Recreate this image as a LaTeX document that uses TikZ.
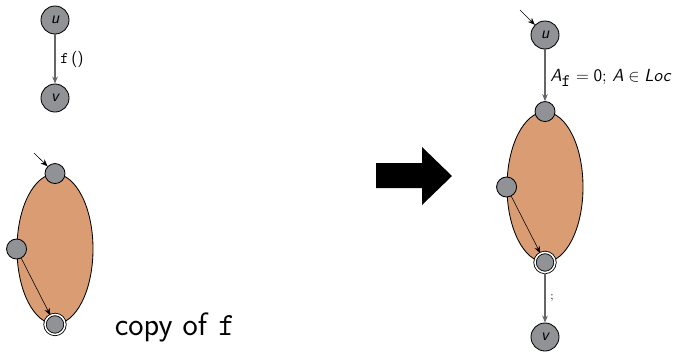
\documentclass[tikz,border=0pt]{standalone}
\usetikzlibrary{automata, positioning, arrows.meta, shapes.geometric}
\definecolor{blobfill}{RGB}{217,156,115}
\definecolor{stategray}{RGB}{145,146,150}

\begin{document}
\begin{tikzpicture}[
  x=0.025cm, y=-0.025cm,
  >={Stealth[length=5pt, width=4pt]},
  font=\sffamily,
  every state/.style={
    draw, circle, fill=stategray, minimum size=0.7cm,
    inner sep=0pt, semithick, font=\large\sffamily\itshape
  },
  port/.style={state, minimum size=0.5cm},
  exitport/.style={port, double, double distance=1.1pt},
  blob/.style={draw, semithick, ellipse, fill=blobfill,
               minimum width=1.9cm, minimum height=3.75cm},
  ctrans/.style={->, line width=0.8pt, draw=black!60, text=black,
                 font=\fontsize{11.5}{14}\selectfont\sffamily},
  itrans/.style={->, thin}
]
\useasboundingbox (0,0) rectangle (676,351);

%--- Original call ---
\node[state] (u1) at (55,20) {u};
\node[state] (v1) at (55,98) {v};
\path[ctrans]
  (u1) edge node[right] {\texttt{f}\,()} (v1);

%--- Copy of the body ---
\node[blob]     (body1)  at (55,249)     {};
\node[port]     (entry1) at (body1.north) {};
\node[port]     (mid1)   at (body1.west)  {};
\node[exitport] (exit1)  at (body1.south) {};
\coordinate (start1) at (34,153);
\path[itrans]
  (start1) edge (entry1)
  (mid1)   edge (exit1);
\node[anchor=west, font=\fontsize{23}{27}\selectfont\sffamily]
  (caption) at (110,327) {copy of \texttt{f}};

%--- Inlining arrow ---
\fill (376,163) -- (422,163) -- (422,147) -- (452,176)
      -- (422,205) -- (422,188) -- (376,188) -- cycle;

%--- Inlined call ---
\node[state]    (u2)     at (545,35)      {u};
\node[blob]     (body2)  at (545,187)     {};
\node[port]     (entry2) at (body2.north) {};
\node[port]     (mid2)   at (body2.west)  {};
\node[exitport] (exit2)  at (body2.south) {};
\node[state]    (v2)     at (545,337)     {v};
\coordinate (start2) at (520,10);
\path[itrans]
  (start2) edge (u2)
  (mid2)   edge (exit2);
\path[ctrans]
  (u2)    edge node[right, pos=0.55, font=\fontsize{12.5}{15}\selectfont\sffamily]
          {$\textsf{\textit{A}}_{\texttt{f}} = \textsf{0};\, \textsf{\textit{A}} \in \textsf{\textit{Loc}}$} (entry2)
  (exit2) edge node[right, font=\footnotesize] {;} (v2);

\end{tikzpicture}
\end{document}
